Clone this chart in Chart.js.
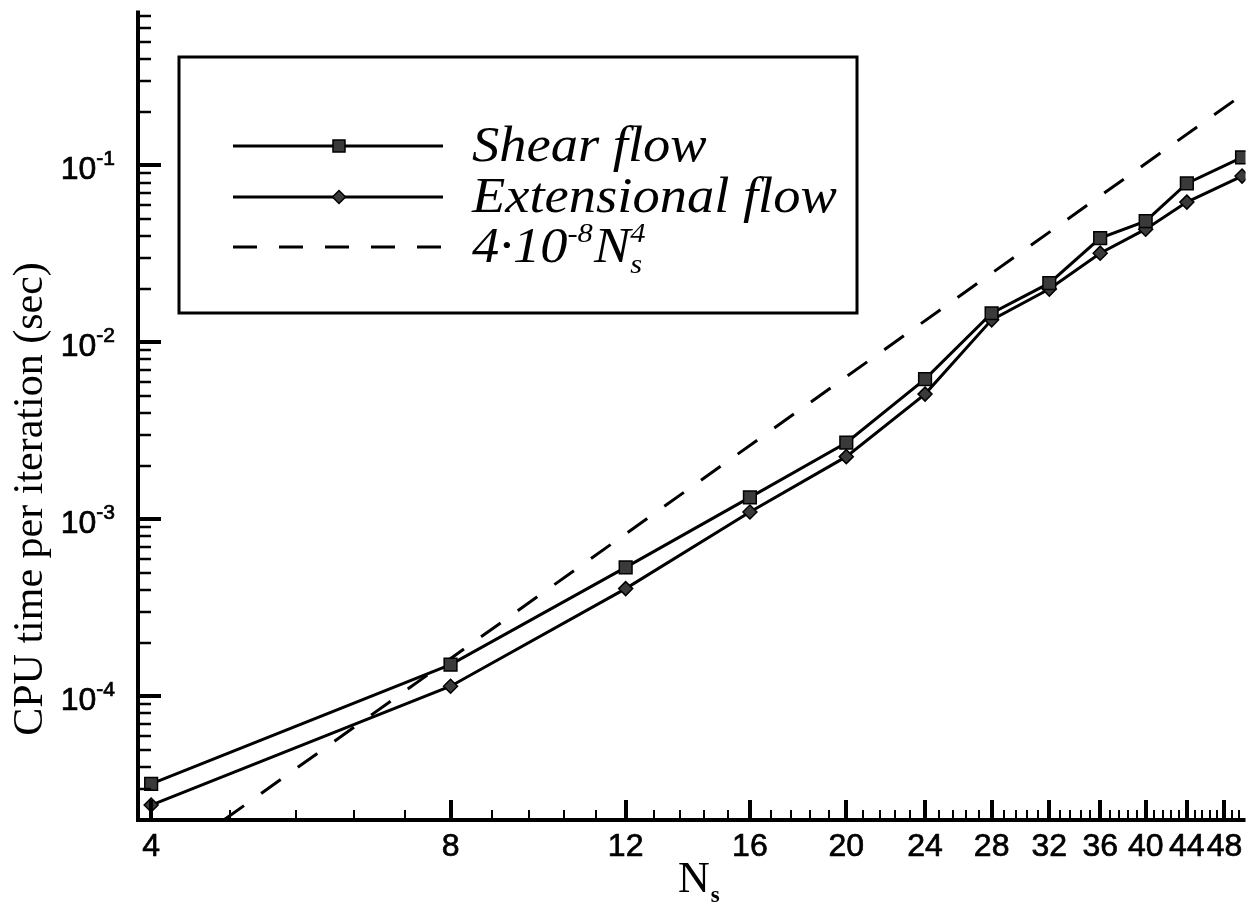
<!DOCTYPE html>
<html>
<head>
<meta charset="utf-8">
<script src="https://cdn.jsdelivr.net/npm/chart.js@4.4.1/dist/chart.umd.min.js"></script>
<style>
  html, body { margin: 0; padding: 0; background: #fff; }
  #wrap { width: 1256px; height: 906px; }
</style>
</head>
<body>
<div id="wrap"><canvas id="cpuChart" width="1256" height="906"></canvas></div>
<script>
// Grid sizes N_s and CPU time per iteration (sec)
const gridSizes = [4, 8, 12, 16, 20, 24, 28, 32, 36, 40, 44, 50];
const shearTime = [3.2e-5, 1.51e-4, 5.35e-4, 1.33e-3, 2.71e-3, 6.2e-3, 1.46e-2, 2.16e-2, 3.88e-2, 4.84e-2, 7.9e-2, 1.11e-1];
const extensionalTime = [2.43e-5, 1.14e-4, 4.06e-4, 1.10e-3, 2.26e-3, 5.1e-3, 1.34e-2, 2.0e-2, 3.19e-2, 4.36e-2, 6.2e-2, 8.7e-2];

// Reference slope 4e-8 * N^4 (end points, straight on log-log)
const refSizes = [4, 50];
const refTime = [1.02e-5, 0.25];

// Axis labels
const xTickLabels = [4, 8, 12, 16, 20, 24, 28, 32, 36, 40, 44, 48];
const yTickExponents = [-4, -3, -2, -1];

const INK = '#000';
const SANS = '"Liberation Sans", Arial, sans-serif';
const SERIF = '"Liberation Serif", "Times New Roman", serif';

function toPoints(xs, ys) {
  return xs.map((x, i) => ({ x: x, y: ys[i] }));
}

// draws a run of text pieces left to right, optional raise/lower per piece
function drawRuns(ctx, x, y, runs, heavy) {
  let cx = x;
  runs.forEach(r => {
    ctx.font = r.font;
    ctx.fillText(r.text, cx, y + (r.dy || 0));
    if (heavy) ctx.strokeText(r.text, cx, y + (r.dy || 0));
    if (!r.stay) cx += ctx.measureText(r.text).width + (r.gap || 0);
  });
  return cx;
}

function runsWidth(ctx, runs) {
  let w = 0;
  runs.forEach(r => {
    ctx.font = r.font;
    if (!r.stay) w += ctx.measureText(r.text).width + (r.gap || 0);
  });
  return w;
}

function drawSquare(ctx, x, y, s) {
  ctx.fillStyle = '#3a3a3a';
  ctx.fillRect(x - s / 2, y - s / 2, s, s);
  ctx.lineWidth = 1.5;
  ctx.strokeStyle = INK;
  ctx.strokeRect(x - s / 2, y - s / 2, s, s);
}

function drawDiamond(ctx, x, y, r) {
  ctx.beginPath();
  ctx.moveTo(x, y - r);
  ctx.lineTo(x + r, y);
  ctx.lineTo(x, y + r);
  ctx.lineTo(x - r, y);
  ctx.closePath();
  ctx.fillStyle = '#3a3a3a';
  ctx.fill();
  ctx.lineWidth = 1.5;
  ctx.strokeStyle = INK;
  ctx.stroke();
}

// legend text in a slightly wide italic face
function legendText(ctx, x, y, runs) {
  ctx.save();
  ctx.translate(x, y);
  ctx.scale(1.09, 1);
  drawRuns(ctx, 0, 0, runs);
  ctx.restore();
}

// Axes with inward ticks, tick labels, titles and boxed legend
const paperAxes = {
  id: 'paperAxes',
  afterDraw(chart) {
    const { ctx, chartArea: a, scales: { x, y } } = chart;
    ctx.save();
    ctx.strokeStyle = INK;
    ctx.fillStyle = INK;
    ctx.lineCap = 'butt';

    // x ticks every 0.8, labelled every 4
    for (let k = 5; k * 0.8 <= x.max; k++) {
      const v = k * 0.8;
      const px = Math.round(x.getPixelForValue(v));
      const major = k % 5 === 0;
      ctx.lineWidth = major ? 4 : 2;
      ctx.beginPath();
      ctx.moveTo(px, a.bottom);
      ctx.lineTo(px, a.bottom - (major ? 20 : 10));
      ctx.stroke();
    }
    ctx.font = '32px ' + SANS;
    ctx.textAlign = 'center';
    ctx.textBaseline = 'alphabetic';
    ctx.lineWidth = 0.7;
    xTickLabels.forEach(n => {
      const px = x.getPixelForValue(n);
      ctx.fillText(String(n), px, 856);
      ctx.strokeText(String(n), px, 856);
    });

    // y ticks: decades plus 2..9 minors
    for (let d = -5; d <= 0; d++) {
      for (let m = 1; m <= 9; m++) {
        const v = m * Math.pow(10, d);
        if (v < y.min || v > y.max) continue;
        const py = Math.round(y.getPixelForValue(v));
        const major = m === 1;
        ctx.lineWidth = major ? 4 : 2.5;
        ctx.beginPath();
        ctx.moveTo(a.left, py);
        ctx.lineTo(a.left + (major ? 23 : 13), py);
        ctx.stroke();
      }
    }
    ctx.textAlign = 'left';
    ctx.lineWidth = 0.7;
    yTickExponents.forEach(e => {
      const py = y.getPixelForValue(Math.pow(10, e));
      const runs = [
        { text: '10', font: '32px ' + SANS },
        { text: '-' + Math.abs(e), font: '21px ' + SANS, dy: -14 }
      ];
      drawRuns(ctx, 115 - runsWidth(ctx, runs), py + 14, runs, true);
    });

    // axis lines
    ctx.lineWidth = 4;
    ctx.beginPath();
    ctx.moveTo(a.left, a.top);
    ctx.lineTo(a.left, a.bottom);
    ctx.lineTo(a.right, a.bottom);
    ctx.stroke();

    // y title
    ctx.save();
    ctx.translate(42, 499);
    ctx.rotate(-Math.PI / 2);
    ctx.textAlign = 'center';
    ctx.font = '42px ' + SERIF;
    ctx.fillText('CPU time per iteration (sec)', 0, 0);
    ctx.restore();

    // x title N_s
    ctx.textAlign = 'left';
    drawRuns(ctx, 678, 892, [
      { text: 'N', font: '44px ' + SERIF, gap: 1 },
      { text: 's', font: 'bold 23px ' + SERIF, dy: 10 }
    ]);

    // legend box
    const box = { l: 179, t: 57, r: 857, b: 313 };
    ctx.fillStyle = '#fff';
    ctx.fillRect(box.l, box.t, box.r - box.l, box.b - box.t);
    ctx.lineWidth = 3;
    ctx.strokeStyle = INK;
    ctx.strokeRect(box.l, box.t, box.r - box.l, box.b - box.t);

    const rows = [146, 197, 247];
    const lx0 = 233, lx1 = 443, mx = 339, tx = 472;
    ctx.lineWidth = 3;
    rows.forEach((ry, i) => {
      ctx.setLineDash(i === 2 ? [24, 22] : []);
      ctx.beginPath();
      ctx.moveTo(lx0, ry);
      ctx.lineTo(lx1, ry);
      ctx.stroke();
    });
    ctx.setLineDash([]);
    drawSquare(ctx, mx, rows[0], 12);
    drawDiamond(ctx, mx, rows[1], 6.5);

    ctx.fillStyle = INK;
    const lf = 'italic 50px ' + SERIF;
    const sf = 'italic 28px ' + SERIF;
    legendText(ctx, tx, rows[0] + 15, [{ text: 'Shear flow', font: lf }]);
    legendText(ctx, tx, rows[1] + 15, [{ text: 'Extensional flow', font: lf }]);
    legendText(ctx, tx, rows[2] + 15, [
      { text: '4·10', font: lf },
      { text: '-8', font: sf, dy: -20, gap: 1 },
      { text: 'N', font: lf },
      { text: '4', font: sf, dy: -20, stay: true },
      { text: 's', font: sf, dy: 11 }
    ]);

    ctx.restore();
  }
};

new Chart(document.getElementById('cpuChart'), {
  type: 'line',
  data: {
    datasets: [{
      label: 'Shear flow',
      data: toPoints(gridSizes, shearTime),
      borderColor: INK,
      borderWidth: 3,
      pointStyle: 'rect',
      pointRadius: 9,
      pointBackgroundColor: '#3a3a3a',
      pointBorderColor: INK,
      pointBorderWidth: 1.5
    }, {
      label: 'Extensional flow',
      data: toPoints(gridSizes, extensionalTime),
      borderColor: INK,
      borderWidth: 3,
      pointStyle: 'rectRot',
      pointRadius: 7,
      pointBackgroundColor: '#3a3a3a',
      pointBorderColor: INK,
      pointBorderWidth: 1.5
    }, {
      label: '4·10⁻⁸ N_s⁴',
      data: toPoints(refSizes, refTime),
      borderColor: INK,
      borderWidth: 3,
      borderDash: [24, 21],
      pointRadius: 0
    }]
  },
  options: {
    responsive: false,
    animation: false,
    devicePixelRatio: 1,
    layout: { padding: { left: 138, top: 10, right: 6, bottom: 86 } },
    scales: {
      x: { type: 'logarithmic', min: 3.88, max: 50.4, display: false },
      y: { type: 'logarithmic', min: 2e-5, max: 0.75, display: false }
    },
    plugins: {
      legend: { display: false },
      tooltip: { enabled: false }
    }
  },
  plugins: [paperAxes]
});
</script>
</body>
</html>
